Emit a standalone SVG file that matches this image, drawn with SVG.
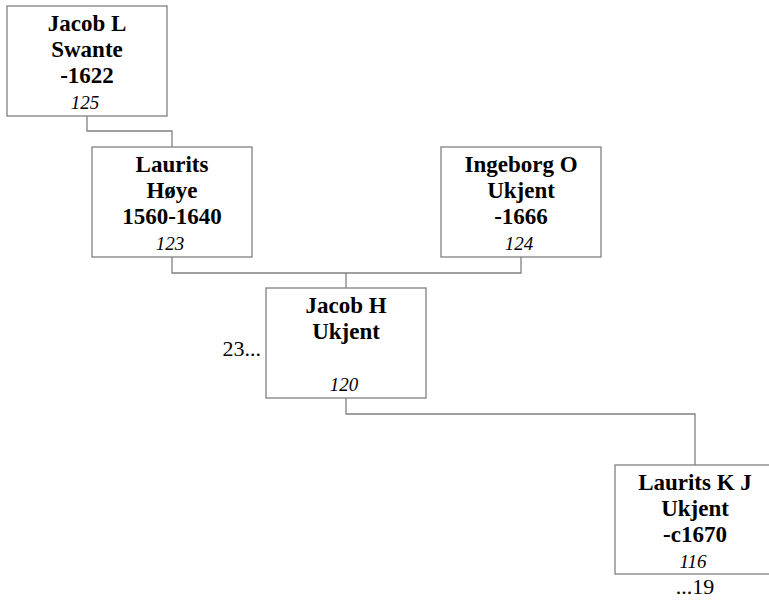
<svg xmlns="http://www.w3.org/2000/svg" width="769" height="604" viewBox="0 0 769 604">
<style>
.box{fill:#fff;stroke:#808080;stroke-width:1.3}
.n{font-family:"Liberation Serif","Times New Roman",Times,serif;font-weight:bold;font-size:23px;text-anchor:middle;fill:#000}
.i{font-family:"Liberation Serif","Times New Roman",Times,serif;font-style:italic;font-size:19px;text-anchor:middle;fill:#000}
.r{font-family:"Liberation Serif","Times New Roman",Times,serif;font-size:22px;fill:#000}
.c{fill:none;stroke:#808080;stroke-width:1.3}
</style>
<rect width="769" height="604" fill="#fff"/>
<g id="connectors">
<path class="c" d="M87,116 V131 H172 V147"/>
<path class="c" d="M172,257 V273 H521 V257 M346,273 V288"/>
<path class="c" d="M346,398 V414 H695 V465"/>
</g>
<g id="n125">
<rect class="box" x="7" y="6" width="160" height="110"/>
<text class="n" x="87" y="31">Jacob L</text>
<text class="n" x="87" y="57">Swante</text>
<text class="n" x="87" y="83"> -1622</text>
<text class="i" x="85" y="109">125</text>
</g>
<g id="n123">
<rect class="box" x="92" y="147" width="160" height="110"/>
<text class="n" x="172" y="172">Laurits</text>
<text class="n" x="172" y="198">Høye</text>
<text class="n" x="172" y="224">1560-1640</text>
<text class="i" x="170" y="250">123</text>
</g>
<g id="n124">
<rect class="box" x="441" y="147" width="160" height="110"/>
<text class="n" x="521" y="172">Ingeborg O</text>
<text class="n" x="521" y="198">Ukjent</text>
<text class="n" x="521" y="224"> -1666</text>
<text class="i" x="519" y="250">124</text>
</g>
<g id="n120">
<rect class="box" x="266" y="288" width="160" height="110"/>
<text class="n" x="346" y="313">Jacob H</text>
<text class="n" x="346" y="339">Ukjent</text>
<text class="i" x="344" y="391">120</text>
<text class="r" x="261" y="356" text-anchor="end">23...</text>
</g>
<g id="n116">
<rect class="box" x="615" y="465" width="160" height="109"/>
<text class="n" x="695" y="490">Laurits K J</text>
<text class="n" x="695" y="516">Ukjent</text>
<text class="n" x="695" y="542"> -c1670</text>
<text class="i" x="693" y="568">116</text>
<text class="r" x="695" y="594" text-anchor="middle">...19</text>
</g>
</svg>
